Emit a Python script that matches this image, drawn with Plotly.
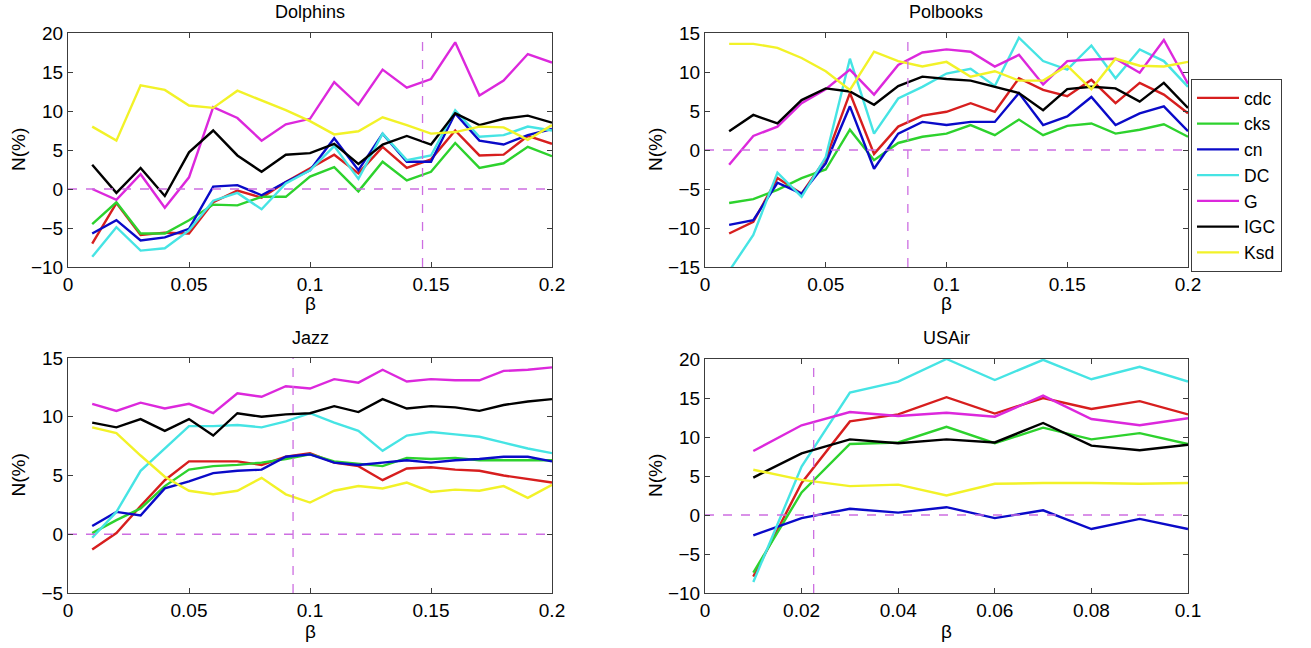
import plotly.graph_objects as go
from plotly.subplots import make_subplots

methods = ["cdc", "cks", "cn", "DC", "G", "IGC", "Ksd"]
colors = ["rgb(215,30,30)", "rgb(45,210,45)", "rgb(10,10,200)", "rgb(70,228,228)",
          "rgb(220,40,220)", "rgb(0,0,0)", "rgb(242,242,40)"]

beta_a = [0.01, 0.02, 0.03, 0.04, 0.05, 0.06, 0.07, 0.08, 0.09, 0.10,
          0.11, 0.12, 0.13, 0.14, 0.15, 0.16, 0.17, 0.18, 0.19, 0.20]
beta_usair = [0.01, 0.02, 0.03, 0.04, 0.05, 0.06, 0.07, 0.08, 0.09, 0.10]

# Dolphins
dol_cdc = [-7.0, -1.8, -5.9, -5.6, -5.7, -1.7, -0.2, -1.1, 0.9, 2.6, 4.4, 2.0, 5.4, 2.7, 3.8, 7.5, 4.3, 4.4, 6.8, 5.8]
dol_cks = [-4.5, -1.7, -5.7, -5.7, -4.0, -2.0, -2.1, -1.0, -1.0, 1.6, 2.8, -0.3, 3.5, 1.1, 2.2, 5.9, 2.7, 3.3, 5.4, 4.2]
dol_cn = [-5.7, -4.0, -6.6, -6.2, -5.1, 0.3, 0.5, -0.8, 0.9, 2.4, 6.5, 2.4, 7.1, 3.5, 3.5, 9.7, 6.2, 5.7, 6.9, 7.7]
dol_DC = [-8.7, -4.9, -7.9, -7.6, -5.3, -1.5, -0.5, -2.6, 0.7, 2.4, 5.5, 1.3, 7.1, 3.7, 4.3, 10.1, 6.7, 6.9, 8.0, 7.5]
dol_G = [0.0, -1.4, 1.9, -2.4, 1.5, 10.5, 9.1, 6.2, 8.3, 9.0, 13.7, 10.8, 15.3, 13.0, 14.1, 18.8, 12.0, 13.9, 17.3, 16.2]
dol_IGC = [3.1, -0.5, 2.7, -0.9, 4.7, 7.5, 4.3, 2.2, 4.4, 4.6, 5.8, 3.2, 5.7, 6.8, 5.7, 9.7, 8.2, 9.0, 9.4, 8.5]
dol_Ksd = [8.0, 6.2, 13.3, 12.7, 10.7, 10.4, 12.6, 11.4, 10.1, 8.7, 7.0, 7.4, 9.2, 8.2, 7.1, 7.3, 8.0, 7.9, 6.3, 8.2]

# Polbooks
pol_cdc = [-10.7, -9.2, -3.6, -5.6, -1.1, 7.3, -0.5, 3.0, 4.4, 4.9, 6.0, 4.9, 9.2, 7.7, 6.9, 9.0, 6.0, 8.6, 7.1, 4.7]
pol_cks = [-6.8, -6.3, -5.1, -3.6, -2.5, 2.6, -1.3, 0.9, 1.7, 2.1, 3.2, 1.9, 3.9, 1.9, 3.1, 3.4, 2.1, 2.6, 3.3, 1.7]
pol_cn = [-9.6, -9.0, -4.2, -5.6, -1.7, 5.6, -2.4, 2.1, 3.6, 3.2, 3.6, 3.6, 7.3, 3.2, 4.3, 6.8, 3.2, 4.7, 5.6, 2.4]
pol_DC = [-15.5, -10.9, -2.9, -6.0, -0.9, 11.7, 2.1, 6.6, 8.1, 9.8, 10.4, 8.2, 14.4, 11.4, 10.3, 13.4, 9.2, 12.9, 11.4, 8.1]
pol_G = [-1.9, 1.8, 3.0, 6.0, 7.8, 10.3, 7.1, 10.9, 12.5, 12.9, 12.6, 10.7, 12.2, 8.4, 11.4, 11.6, 11.7, 9.9, 14.1, 8.5]
pol_IGC = [2.4, 4.5, 3.4, 6.4, 7.9, 7.5, 5.8, 8.2, 9.4, 9.1, 8.9, 8.1, 7.3, 5.1, 7.8, 8.1, 7.9, 6.2, 8.6, 5.4]
pol_Ksd = [13.6, 13.6, 13.1, 11.8, 10.1, 7.7, 12.6, 11.4, 10.7, 11.3, 9.4, 10.1, 8.9, 8.9, 10.8, 7.8, 11.7, 10.8, 10.7, 11.3]

# Jazz
jaz_cdc = [-1.3, 0.1, 2.4, 4.6, 6.2, 6.2, 6.2, 5.9, 6.6, 6.9, 6.1, 5.8, 4.6, 5.6, 5.7, 5.5, 5.4, 5.0, 4.7, 4.4]
jaz_cks = [0.1, 1.2, 2.2, 4.1, 5.5, 5.8, 5.9, 6.1, 6.4, 6.8, 6.2, 6.0, 5.8, 6.5, 6.4, 6.5, 6.3, 6.3, 6.3, 6.3]
jaz_cn = [0.7, 1.9, 1.6, 3.9, 4.5, 5.2, 5.4, 5.5, 6.6, 6.8, 6.1, 5.9, 6.1, 6.3, 6.1, 6.3, 6.4, 6.6, 6.6, 6.2]
jaz_DC = [-0.3, 1.9, 5.4, 7.3, 9.2, 9.2, 9.3, 9.1, 9.6, 10.3, 9.5, 8.8, 7.1, 8.4, 8.7, 8.5, 8.3, 7.8, 7.3, 6.9]
jaz_G = [11.1, 10.5, 11.2, 10.7, 11.1, 10.3, 12.0, 11.7, 12.6, 12.4, 13.2, 12.9, 14.0, 13.0, 13.2, 13.1, 13.1, 13.9, 14.0, 14.2]
jaz_IGC = [9.5, 9.1, 9.8, 8.8, 9.8, 8.4, 10.3, 10.0, 10.2, 10.3, 10.9, 10.4, 11.5, 10.7, 10.9, 10.8, 10.5, 11.0, 11.3, 11.5]
jaz_Ksd = [9.1, 8.6, 6.7, 4.9, 3.7, 3.4, 3.7, 4.8, 3.4, 2.7, 3.7, 4.1, 3.9, 4.4, 3.6, 3.8, 3.7, 4.1, 3.1, 4.2]

# USAir
usa_cdc = [-7.9, 4.1, 12.0, 12.9, 15.1, 13.0, 15.0, 13.6, 14.6, 12.9]
usa_cks = [-7.4, 2.9, 9.1, 9.3, 11.3, 9.2, 11.2, 9.7, 10.5, 9.1]
usa_cn = [-2.6, -0.4, 0.8, 0.3, 1.0, -0.4, 0.6, -1.8, -0.5, -1.8]
usa_DC = [-8.6, 6.2, 15.7, 17.1, 20.0, 17.3, 19.9, 17.4, 19.0, 17.1]
usa_G = [8.2, 11.5, 13.2, 12.7, 13.1, 12.6, 15.3, 12.3, 11.5, 12.4]
usa_IGC = [4.8, 7.9, 9.7, 9.2, 9.7, 9.3, 11.8, 8.9, 8.3, 9.0]
usa_Ksd = [5.8, 4.5, 3.7, 3.9, 2.5, 4.0, 4.1, 4.1, 4.0, 4.1]

titles = ["Dolphins", "Polbooks", "Jazz", "USAir"]
best_beta = [0.1465, 0.084, 0.093, 0.0225]
x_ranges = [[0, 0.2], [0, 0.2], [0, 0.2], [0, 0.1]]
y_ranges = [[-10, 20], [-15, 15], [-5, 15], [-10, 20]]
y_dticks = [5, 5, 5, 5]
x_dticks = [0.05, 0.05, 0.05, 0.02]

panels = [
    (beta_a, [dol_cdc, dol_cks, dol_cn, dol_DC, dol_G, dol_IGC, dol_Ksd]),
    (beta_a, [pol_cdc, pol_cks, pol_cn, pol_DC, pol_G, pol_IGC, pol_Ksd]),
    (beta_a, [jaz_cdc, jaz_cks, jaz_cn, jaz_DC, jaz_G, jaz_IGC, jaz_Ksd]),
    (beta_usair, [usa_cdc, usa_cks, usa_cn, usa_DC, usa_G, usa_IGC, usa_Ksd]),
]

W, H = 1311, 648
# pixel boxes (left, right, top, bottom)
boxes = [(68, 552, 33, 267), (705, 1188, 33, 267), (68, 552, 358, 593), (705, 1188, 359, 593)]
title_y = [12, 12, 338, 338]
xlabel_y = [303, 303, 631, 631]
ylabel_x = [18, 655, 18, 655]


def fx(px):
    return px / W


def fy(py):
    return 1 - py / H


fig = make_subplots(rows=2, cols=2)
font_family = "Liberation Sans, Arial, sans-serif"
dash_color = "rgb(205,110,225)"
tfont = dict(size=19, color="black", family=font_family)

for i, ((xs, series), box) in enumerate(zip(panels, boxes)):
    r, c = i // 2 + 1, i % 2 + 1
    for j, (name, col, ys) in enumerate(zip(methods, colors, series)):
        fig.add_trace(go.Scatter(x=xs, y=ys, mode="lines", name=name,
                                 line=dict(color=col, width=2.4),
                                 showlegend=(i == 1)), row=r, col=c)
    fig.add_trace(go.Scatter(x=x_ranges[i], y=[0, 0], mode="lines", showlegend=False,
                             line=dict(color=dash_color, width=1.3, dash="dash"),
                             hoverinfo="skip"), row=r, col=c)
    fig.add_trace(go.Scatter(x=[best_beta[i], best_beta[i]], y=y_ranges[i], mode="lines",
                             showlegend=False,
                             line=dict(color=dash_color, width=1.3, dash="dash"),
                             hoverinfo="skip"), row=r, col=c)
    l, rr, t, b = box
    fig.update_xaxes(domain=[fx(l), fx(rr)], range=x_ranges[i], dtick=x_dticks[i], tick0=0,
                     showgrid=False, zeroline=False, showline=True, linecolor="rgb(60,60,60)",
                     linewidth=1, mirror="ticks", ticks="inside", ticklen=5,
                     tickcolor="rgb(60,60,60)", automargin=False, tickfont=tfont,
                     row=r, col=c)
    fig.update_yaxes(domain=[fy(b), fy(t)], range=y_ranges[i], dtick=y_dticks[i],
                     showgrid=False, zeroline=False, showline=True, linecolor="rgb(60,60,60)",
                     linewidth=1, mirror="ticks", ticks="inside", ticklen=5,
                     tickcolor="rgb(60,60,60)", automargin=False, tickfont=tfont,
                     row=r, col=c)
    fig.add_annotation(x=fx((l + rr) / 2), y=fy(title_y[i]), xref="paper", yref="paper",
                       text=titles[i], showarrow=False, xanchor="center", yanchor="middle",
                       font=dict(size=18, color="black", family=font_family))
    fig.add_annotation(x=fx((l + rr) / 2), y=fy(xlabel_y[i]), xref="paper", yref="paper",
                       text="β", showarrow=False, xanchor="center", yanchor="middle",
                       font=tfont)
    fig.add_annotation(x=fx(ylabel_x[i]), y=fy((t + b) / 2), xref="paper", yref="paper",
                       text="N(%)", showarrow=False, xanchor="center", yanchor="middle",
                       textangle=-90, font=tfont)

fig.update_layout(
    width=W, height=H,
    margin=dict(l=0, r=0, t=0, b=0, autoexpand=False),
    paper_bgcolor="white", plot_bgcolor="white",
    legend=dict(x=fx(1191), y=fy(79), xanchor="left", yanchor="top",
                bordercolor="rgb(60,60,60)", borderwidth=1, bgcolor="white",
                font=dict(size=17.5, color="black", family=font_family),
                itemwidth=42, tracegroupgap=0),
)

fig.write_html("out.html", config={"displayModeBar": False},
               post_script="document.body.style.margin='0';")
